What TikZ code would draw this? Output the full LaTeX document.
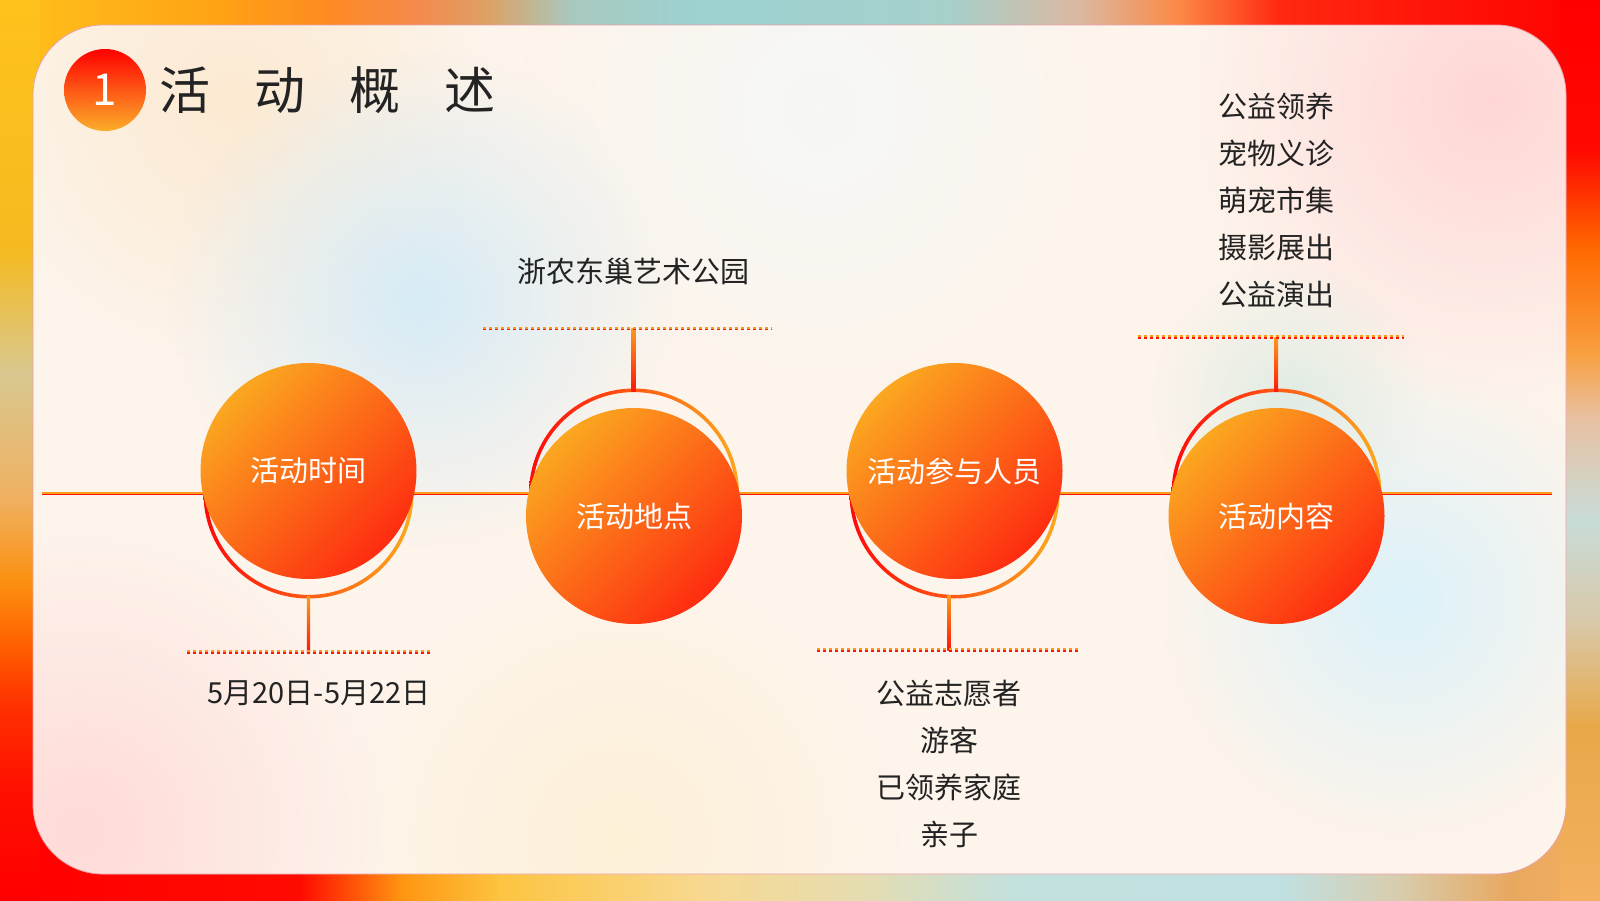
\documentclass[tikz,border=0pt]{standalone}
\usepackage{fontspec}
\setmainfont{Noto Sans CJK SC}
\usetikzlibrary{calc,fadings}

\definecolor{ink}{HTML}{232323}
\definecolor{lineor}{HTML}{F99C1E}
\definecolor{linered}{HTML}{FF160A}
\definecolor{ballA}{HTML}{FBA720}
\definecolor{ballB}{HTML}{FD821B}
\definecolor{ballC}{HTML}{FE2C10}
\definecolor{ringL}{HTML}{FF0A0A}
\definecolor{ringM}{HTML}{FF6A14}
\definecolor{ringR}{HTML}{FBAA1F}
\definecolor{nbtop}{HTML}{FF0000}
\definecolor{nbmid}{HTML}{FF2408}
\definecolor{nbbot}{HTML}{FBAE2A}
\definecolor{cardbase}{HTML}{FDF4EB}
\definecolor{cardedge}{HTML}{E8A0AA}
% outer background stops
\definecolor{T0}{HTML}{FFC21C}\definecolor{T1}{HTML}{FFA214}\definecolor{T2}{HTML}{FE8A22}
\definecolor{T3}{HTML}{F48A4E}\definecolor{T4}{HTML}{DCA266}\definecolor{T5}{HTML}{A8C8BE}
\definecolor{T6}{HTML}{9CD2D2}\definecolor{T7}{HTML}{A6D0CA}\definecolor{T8}{HTML}{DCB8A0}
\definecolor{T9}{HTML}{FC8844}\definecolor{T10}{HTML}{FF2810}\definecolor{T11}{HTML}{FF0000}
\definecolor{B0}{HTML}{FF0000}\definecolor{B1}{HTML}{FF0A00}\definecolor{B2}{HTML}{FF9410}
\definecolor{B3}{HTML}{FCC440}\definecolor{B4}{HTML}{F8D890}\definecolor{B5}{HTML}{E6DCB0}
\definecolor{B6}{HTML}{C2E0DC}\definecolor{B7}{HTML}{C0E0E2}\definecolor{B8}{HTML}{D8CCAC}
\definecolor{B9}{HTML}{E8A860}\definecolor{B10}{HTML}{F4B060}
\definecolor{L0}{HTML}{FFC21C}\definecolor{L1}{HTML}{F5BA20}\definecolor{L2}{HTML}{D8C890}
\definecolor{L3}{HTML}{F0B060}\definecolor{L4}{HTML}{FB9010}\definecolor{L5}{HTML}{FF6000}
\definecolor{L6}{HTML}{FF3000}\definecolor{L7}{HTML}{FF1000}\definecolor{L8}{HTML}{FF0000}
\definecolor{R0}{HTML}{FF0000}\definecolor{R1}{HTML}{FF0800}\definecolor{R2}{HTML}{FF6A00}
\definecolor{R3}{HTML}{F8A040}\definecolor{R4}{HTML}{E8C0A0}\definecolor{R5}{HTML}{C8DCD8}
\definecolor{R6}{HTML}{D8C8A8}\definecolor{R7}{HTML}{E8A848}\definecolor{R8}{HTML}{F4B060}
% card blobs
\definecolor{blobblue}{HTML}{D6EBF6}
\definecolor{blobblue2}{HTML}{DCF2FA}
\definecolor{blobpink}{HTML}{FFD6D6}
\definecolor{blobpink2}{HTML}{FFDAD8}
\definecolor{blobcream}{HTML}{FEF1D8}
\definecolor{blobpeach}{HTML}{FCEAD2}
\definecolor{blobgreen}{HTML}{E0ECE4}
\definecolor{blobwhite}{HTML}{F6F8F6}

\tikzfading[name=softspot, inner color=transparent!0, outer color=transparent!100]

\tikzset{
  ball/.style={circle, minimum size=216pt, inner sep=0pt,
    top color=ballA, middle color=ballB, bottom color=ballC, shading angle=45,
    text=white, font=\fontsize{29}{35}\selectfont},
  numball/.style={circle, minimum size=82pt, inner sep=0pt,
    top color=nbtop, middle color=nbmid, bottom color=nbbot,
    text=white, font=\fontsize{44}{44}\selectfont},
  label/.style={text=ink, inner sep=0pt, align=center, font=\fontsize{29}{47}\selectfont},
  ringshade/.style={even odd rule, left color=ringL, middle color=ringM, right color=ringR},
  linktop/.style={top color=lineor, bottom color=linered},
  dotor/.style={draw=lineor, line width=1.7pt, dash pattern=on 3pt off 3pt},
  dotred/.style={draw=linered, line width=1.7pt, dash pattern=on 3pt off 3pt},
  mainor/.style={draw=lineor, line width=1.8pt},
  mainred/.style={draw=linered, line width=1.8pt},
  blob/.style={path fading=softspot},
}

\begin{document}
\begin{tikzpicture}[x=1pt,y=-1pt]
\useasboundingbox (0,0) rectangle (1600,900);

% ---------- outer gradient frame ----------
\foreach \a/\ca/\b/\cb in {0/T0/220/T1,220/T1/330/T2,330/T2/420/T3,420/T3/490/T4,490/T4/570/T5,570/T5/700/T6,700/T6/950/T7,950/T7/1080/T8,1080/T8/1180/T9,1180/T9/1280/T10,1280/T10/1600/T11}
  {\shade[left color=\ca, right color=\cb] (\a-0.6,0) rectangle (\b+0.6,451);}
\foreach \a/\ca/\b/\cb in {0/B0/300/B1,300/B1/400/B2,400/B2/500/B3,500/B3/700/B4,700/B4/860/B5,860/B5/1010/B6,1010/B6/1280/B7,1280/B7/1400/B8,1400/B8/1510/B9,1510/B9/1600/B10}
  {\shade[left color=\ca, right color=\cb] (\a-0.6,449) rectangle (\b+0.6,900);}
\foreach \a/\ca/\b/\cb in {0/L0/250/L1,250/L1/374/L2,374/L2/499/L3,499/L3/582/L4,582/L4/644/L5,644/L5/706/L6,706/L6/789/L7,789/L7/900/L8}
  {\shade[top color=\ca, bottom color=\cb] (0,\a-0.6) rectangle (40,\b+0.6);}
\foreach \a/\ca/\b/\cb in {0/R0/150/R1,150/R1/250/R2,250/R2/354/R3,354/R3/416/R4,416/R4/520/R5,520/R5/623/R6,623/R6/727/R7,727/R7/900/R8}
  {\shade[top color=\ca, bottom color=\cb] (1560,\a-0.6) rectangle (1600,\b+0.6);}

% ---------- card ----------
\fill[cardbase, rounded corners=70pt] (33,25) rectangle (1566,874);
\begin{scope}
  \clip[rounded corners=70pt] (33,25) rectangle (1566,874);
  \fill[blobpeach, blob] (230,100) circle (260pt);
  \fill[blobwhite, blob] (820,110) circle (300pt);
  \fill[blobblue, blob] (420,300) circle (250pt);
  \fill[blobpink, blob] (1490,100) circle (300pt);
  \fill[blobblue2, blob] (1400,600) circle (240pt);
  \fill[blobgreen, blob] (1290,400) circle (140pt);
  \fill[blobpink2, blob] (80,830) circle (300pt);
  \fill[blobcream, blob] (620,840) circle (280pt);
\end{scope}
\draw[cardedge, line width=0.8pt, rounded corners=70pt] (33,25) rectangle (1566,874);

% ---------- title ----------
\node[numball] (n1) at (105,90) {1};
\node[anchor=west, inner sep=0pt, text=ink, font=\fontsize{51}{51}\selectfont] (title) at (159,90)
  {活\hspace{44pt}动\hspace{44pt}概\hspace{44pt}述};

% ---------- coordinates ----------
\coordinate (L) at (42,493.5);
\coordinate (R) at (1552,493.5);
\coordinate (k1) at (308.5,493.5);
\coordinate (k2) at (634,493.5);
\coordinate (k3) at (954.5,493.5);
\coordinate (k4) at (1276.5,493.5);
\coordinate (d1) at (308.5,652);   \coordinate (d1L) at (187,652);   \coordinate (d1R) at (430,652);
\coordinate (d2) at (633,328.6);   \coordinate (d2L) at (483,328.6); \coordinate (d2R) at (772,328.6);
\coordinate (d3) at (949,650);     \coordinate (d3L) at (817,650);   \coordinate (d3R) at (1078,650);
\coordinate (d4) at (1276,337);    \coordinate (d4L) at (1138,337);  \coordinate (d4R) at (1404,337);

% ---------- main line ----------
\draw[mainor] ($(L)+(0,-0.9)$) -- ($(R)+(0,-0.9)$);
\draw[mainred] ($(L)+(0,0.9)$) -- ($(R)+(0,0.9)$);

% ---------- rings ----------
\foreach \k in {k1,k2,k3,k4}
  {\shade[ringshade] (\k) circle (105pt) (\k) circle (101.4pt);}

% ---------- connectors ----------
\shade[linktop] ($(k1)+(-1.6,103)$) rectangle ($(d1)+(1.6,0)$);
\shade[linktop] ($(d2)+(-1.6,0)$) rectangle ($(k2)+(1.6,-102)$);
\shade[linktop] ($(d3 |- k3)+(-1.6,102)$) rectangle ($(d3)+(1.6,0)$);
\shade[linktop] ($(d4)+(-1.6,0)$) rectangle ($(k4)+(1.6,-102)$);

% ---------- dotted rules ----------
\foreach \d in {d1,d2,d3,d4}{
  \draw[dotor] ($(\d L)+(0,-0.85)$) -- ($(\d R)+(0,-0.85)$);
  \draw[dotred] ($(\d L)+(0,0.85)$) -- ($(\d R)+(0,0.85)$);
}

% ---------- balls ----------
\node[ball] (b1) at (308.5,471) {活动时间};
\node[ball] (b2) at (634,516) {活动地点};
\node[ball] (b3) at (954.5,471) {活动参与人员};
\node[ball] (b4) at (1276.5,516) {活动内容};

% ---------- texts ----------
\node[label] (t1) at (319,693) {5月20日-5月22日};
\node[label] (t2) at (633,271) {浙农东巢艺术公园};
\node[label] (t3) at (949,764) {公益志愿者\\游客\\已领养家庭\\亲子};
\node[label] (t4) at (1276.5,200) {公益领养\\宠物义诊\\萌宠市集\\摄影展出\\公益演出};
\end{tikzpicture}
\end{document}
